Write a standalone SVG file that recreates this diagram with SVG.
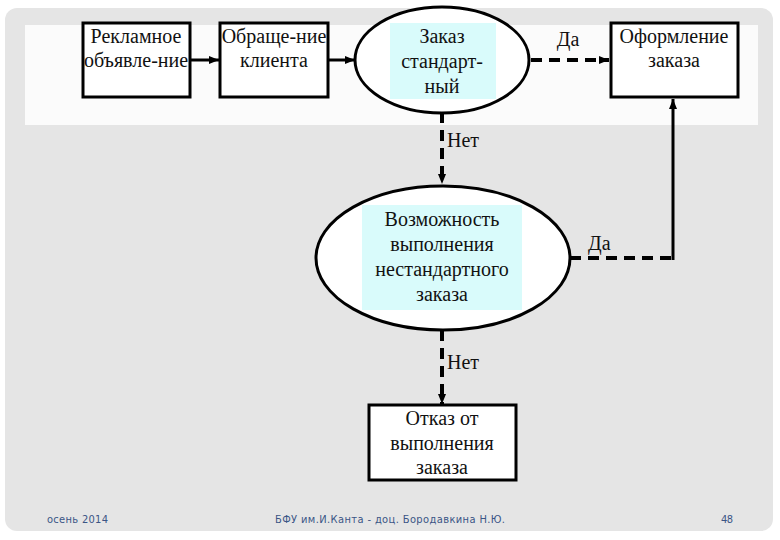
<svg xmlns="http://www.w3.org/2000/svg" width="780" height="540" viewBox="0 0 780 540">
  <style>
    .box { fill: #ffffff; stroke: #000; stroke-width: 3; }
    .ell { fill: #ffffff; stroke: #000; stroke-width: 3; }
    .hl { fill: #d9fbfb; }
    .t { font-family: 'Liberation Serif', 'DejaVu Serif', serif; font-size: 20px; fill: #111; text-anchor: middle; }
    .lbl { font-family: 'Liberation Serif', 'DejaVu Serif', serif; font-size: 20px; fill: #111; }
    .solid { fill: none; stroke: #000; stroke-width: 3; }
    .dash { fill: none; stroke: #000; stroke-width: 4; stroke-dasharray: 11 7; }
    .foot { font-family: 'DejaVu Sans Condensed', 'DejaVu Sans', sans-serif; font-size: 11px; fill: #3b5585; }
  </style>
  <defs>
    <marker id="ah" markerUnits="userSpaceOnUse" markerWidth="10" markerHeight="8" refX="10" refY="4" orient="auto">
      <path d="M0,0 L10,4 L0,8 z" fill="#000"/>
    </marker>
  </defs>
  <rect x="0" y="0" width="780" height="540" fill="#ffffff"/>
  <rect x="5" y="8" width="768" height="523" rx="12" fill="#e5e5e5"/>
  <rect x="25" y="25" width="733" height="100" fill="#fbfbfb"/>

  <g id="connectors">
    <line class="solid" x1="190" y1="60" x2="219" y2="60" marker-end="url(#ah)"/>
    <line class="solid" x1="328" y1="60" x2="355" y2="60" marker-end="url(#ah)"/>
    <line class="dash" x1="531" y1="60" x2="609" y2="60" marker-end="url(#ah)"/>
    <line class="dash" x1="442" y1="112" x2="442" y2="184" marker-end="url(#ah)"/>
    <polyline class="dash" points="570,258 673,258"/>
    <line class="solid" x1="673" y1="260" x2="673" y2="99" marker-end="url(#ah)"/>
    <line class="dash" x1="442" y1="330" x2="442" y2="404" marker-end="url(#ah)"/>
    <text class="lbl" x="568" y="46" text-anchor="middle">Да</text>
    <text class="lbl" x="447" y="147">Нет</text>
    <text class="lbl" x="588" y="250">Да</text>
    <text class="lbl" x="447" y="369">Нет</text>
  </g>

  <g id="n1">
    <rect class="box" x="83" y="23" width="107" height="74"/>
    <text class="t" x="136" y="43">Рекламное</text>
    <text class="t" x="136" y="67">объявле-ние</text>
  </g>
  <g id="n2">
    <rect class="box" x="220" y="23" width="108" height="74"/>
    <text class="t" x="274" y="43">Обраще-ние</text>
    <text class="t" x="274" y="67">клиента</text>
  </g>
  <g id="n3">
    <ellipse class="ell" cx="442" cy="60" rx="87" ry="53"/>
    <rect class="hl" x="390" y="23" width="106" height="76"/>
    <text class="t" x="442" y="43">Заказ</text>
    <text class="t" x="442" y="68">стандарт-</text>
    <text class="t" x="442" y="93">ный</text>
  </g>
  <g id="n4">
    <rect class="box" x="611" y="23" width="127" height="74"/>
    <text class="t" x="674" y="43">Оформление</text>
    <text class="t" x="674" y="67">заказа</text>
  </g>
  <g id="n5">
    <ellipse class="ell" cx="443" cy="258" rx="127" ry="72"/>
    <rect class="hl" x="362" y="205" width="160" height="105"/>
    <text class="t" x="442" y="226">Возможность</text>
    <text class="t" x="442" y="251">выполнения</text>
    <text class="t" x="442" y="276">нестандартного</text>
    <text class="t" x="442" y="301">заказа</text>
  </g>
  <g id="n6">
    <rect class="box" x="369" y="405" width="147" height="75"/>
    <text class="t" x="442" y="425">Отказ от</text>
    <text class="t" x="442" y="450">выполнения</text>
    <text class="t" x="442" y="474">заказа</text>
  </g>

  <g id="footer">
    <text class="foot" x="47" y="523" textLength="61">осень 2014</text>
    <text class="foot" x="275" y="523" textLength="230">БФУ им.И.Канта - доц. Бородавкина Н.Ю.</text>
    <text class="foot" x="721" y="523" textLength="12">48</text>
  </g>
</svg>
